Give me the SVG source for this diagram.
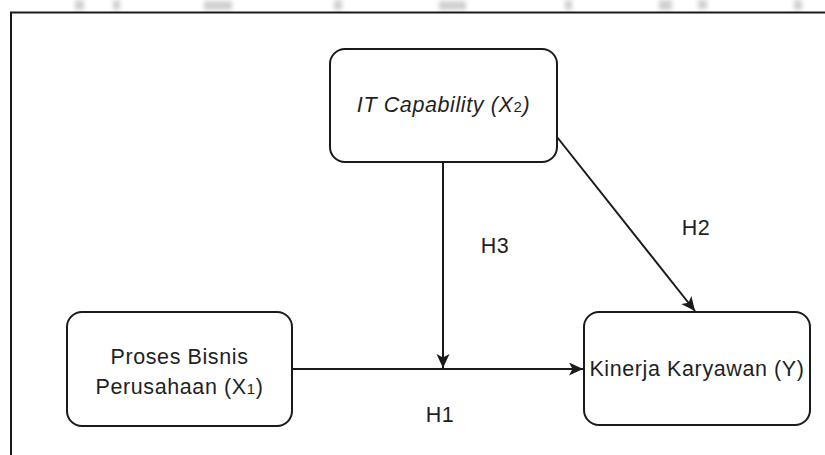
<svg xmlns="http://www.w3.org/2000/svg" width="825" height="455" viewBox="0 0 825 455">
  <style>
    .box { fill: #ffffff; stroke: #1a1a1a; stroke-width: 2; }
    .edge { fill: none; stroke: #1a1a1a; stroke-width: 2; }
    .label { font-family: "Liberation Sans", Arial, sans-serif; font-size: 21.5px; letter-spacing: 0.6px; fill: #1f1f1f; text-anchor: middle; }
    .mark { fill: #d0d0d0; }
  </style>
  <defs>
    <marker id="arrow" markerUnits="userSpaceOnUse" markerWidth="16" markerHeight="14" refX="14" refY="6.5" orient="auto">
      <path d="M0,0 L14,6.5 L0,13 L3.5,6.5 Z" fill="#1a1a1a"/>
    </marker>
    <filter id="soft" x="-50%" y="-50%" width="200%" height="200%">
      <feGaussianBlur stdDeviation="2"/>
    </filter>
  </defs>

  <rect x="0" y="0" width="825" height="455" fill="#ffffff"/>

  <!-- faint background lettering cut off above the frame -->
  <g filter="url(#soft)" class="mark">
    <rect x="75" y="0" width="9" height="10"/>
    <rect x="113" y="0" width="7" height="10"/>
    <rect x="204" y="1" width="28" height="9"/>
    <rect x="334" y="0" width="8" height="10"/>
    <rect x="439" y="1" width="27" height="9"/>
    <rect x="565" y="0" width="7" height="10"/>
    <rect x="659" y="0" width="13" height="10"/>
    <rect x="698" y="0" width="9" height="9"/>
    <rect x="794" y="0" width="8" height="10"/>
  </g>

  <!-- outer frame, open to the right and bottom -->
  <path d="M11,455 L11,12.5 L825,12.5" class="edge"/>

  <g id="connectors">
    <line class="edge" x1="292" y1="369" x2="583" y2="369" marker-end="url(#arrow)"/>
    <line class="edge" x1="443" y1="162" x2="443" y2="368" marker-end="url(#arrow)"/>
    <line class="edge" x1="557" y1="137" x2="695" y2="311" marker-end="url(#arrow)"/>
    <text class="label" x="440" y="422">H1</text>
    <text class="label" x="696" y="235">H2</text>
    <text class="label" x="495" y="253">H3</text>
  </g>

  <g id="node-it-capability">
    <rect class="box" x="330" y="49" width="227" height="113" rx="15" ry="15"/>
    <text class="label" x="443.5" y="112" font-style="italic">IT Capability (X<tspan font-size="15" font-style="normal">2</tspan>)</text>
  </g>

  <g id="node-proses-bisnis">
    <rect class="box" x="67" y="312" width="225" height="114" rx="15" ry="15"/>
    <text class="label" x="179.5" y="364">Proses Bisnis</text>
    <text class="label" x="179.5" y="394">Perusahaan (X<tspan font-size="15">1</tspan>)</text>
  </g>

  <g id="node-kinerja">
    <rect class="box" x="584" y="312" width="226" height="113" rx="15" ry="15"/>
    <text class="label" x="697" y="376">Kinerja Karyawan (Y)</text>
  </g>
</svg>
